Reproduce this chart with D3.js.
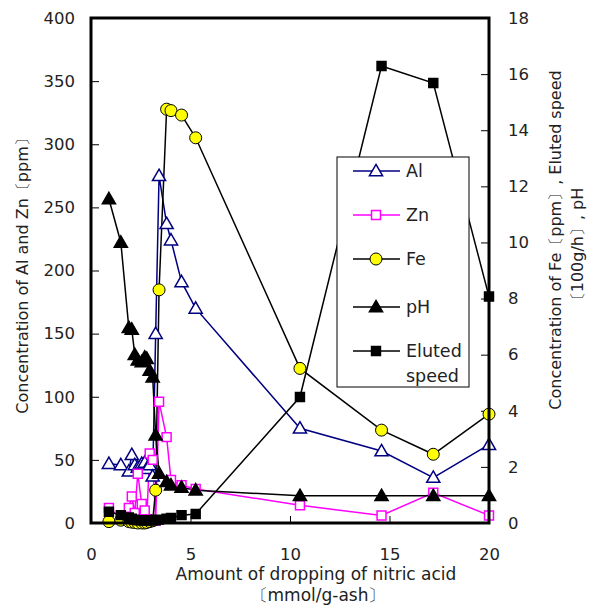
<!DOCTYPE html>
<html lang="en">
	<head>
		<meta charset="utf-8">
		<title>Nitric acid dropping</title>
		<script type="text/javascript" src="https://cdn.jsdelivr.net/npm/d3@7"></script>
		<style type="text/css">
			body { margin: 0; background: #fff; }
			text { font-family: "DejaVu Sans", sans-serif; fill: #222; }
		</style>
	</head>
	<body>
		<script type="text/javascript">

			var width = 592;
			var height = 606;

			// amount of dropping of nitric acid [mmol/g-ash]
			var xs = [0.9, 1.5, 1.9, 2.05, 2.2, 2.35, 2.55, 2.7, 2.8, 2.95, 3.1, 3.25, 3.42, 3.8, 4.02, 4.55, 5.26, 10.5, 14.6, 17.2, 20];
			// left axis [ppm]
			var al = [47, 46, 41, 54, 46, 44, 47, 48, 43, 46, 37, 150, 275, 237, 224, 191, 170, 75, 57, 36, 62];
			var zn = [12, 4, 12, 21, 8, 39, 15, 10, 3, 55, 50, 2, 96, 68, 34, 30, 27, 14, 6, 24, 6];
			// right axis
			var fe = [0.05, 0.1, 0.05, 0.03, 0.02, 0, 0, 0, 0.02, 0.05, 0.08, 1.17, 8.31, 14.75, 14.7, 14.54, 13.73, 5.51, 3.31, 2.45, 3.88];
			var ph = [11.55, 10.0, 6.96, 6.9, 6.0, 5.8, 5.74, 5.9, 5.86, 5.44, 5.2, 3.13, 1.77, 1.47, 1.35, 1.27, 1.17, 0.97, 0.97, 0.97, 0.97];
			var eluted = [0.4, 0.28, 0.2, 0.15, 0.12, 0.1, 0.1, 0.1, 0.1, 0.1, 0.1, 0.1, 0.12, 0.15, 0.18, 0.28, 0.32, 4.49, 16.29, 15.68, 8.07];

			var xTicks = [0, 5, 10, 15, 20];
			var leftTicks = [0, 50, 100, 150, 200, 250, 300, 350, 400];
			var rightTicks = [0, 2, 4, 6, 8, 10, 12, 14, 16, 18];

			var pLeft = 91, pRight = 489, pTop = 18, pBottom = 523;

			var svg = d3.select("body")
						.append("svg")
						.attr("width", width)
						.attr("height", height);

			var xScale = d3.scaleLinear().domain([0, 20]).range([pLeft, pRight]);
			var yLeft = d3.scaleLinear().domain([0, 400]).range([pBottom, pTop]);
			var yRight = d3.scaleLinear().domain([0, 18]).range([pBottom, pTop]);

			// axes with inward ticks
			svg.append("g")
				.attr("transform", "translate(0," + pBottom + ")")
				.call(d3.axisBottom(xScale).tickValues(xTicks).tickSizeInner(-7).tickSizeOuter(0).tickPadding(25))
				.call(function(g){ g.select(".domain").remove(); });
			svg.append("g")
				.attr("transform", "translate(" + pLeft + ",0)")
				.call(d3.axisLeft(yLeft).tickValues(leftTicks).tickSizeInner(-8).tickSizeOuter(0).tickPadding(16))
				.call(function(g){ g.select(".domain").remove(); });
			svg.append("g")
				.attr("transform", "translate(" + pRight + ",0)")
				.call(d3.axisRight(yRight).tickValues(rightTicks).tickSizeInner(-8).tickSizeOuter(0).tickPadding(19))
				.call(function(g){ g.select(".domain").remove(); });

			svg.selectAll(".tick text")
				.attr("font-family", "DejaVu Sans, sans-serif")
				.attr("font-size", 16.5)
				.attr("fill", "#222");
			svg.selectAll(".tick line").attr("stroke", "#000").attr("stroke-width", 1);

			// series definitions
			var triangle = d3.symbol().type(d3.symbolTriangle).size(75);
			var square = d3.symbol().type(d3.symbolSquare).size(80);

			var series = [
				{name: "Al", vals: al, y: yLeft, line: "#000080", shape: "tri", fill: "#fff", stroke: "#000080"},
				{name: "Zn", vals: zn, y: yLeft, line: "#ff00ff", shape: "sq", fill: "#fff", stroke: "#ff00ff"},
				{name: "Fe", vals: fe, y: yRight, line: "#000", shape: "circ", fill: "#ffff00", stroke: "#000"},
				{name: "pH", vals: ph, y: yRight, line: "#000", shape: "tri", fill: "#000", stroke: "#000"},
				{name: "Eluted", vals: eluted, y: yRight, line: "#000", shape: "sq", fill: "#000", stroke: "#000"}
			];

			function drawMarker(g, s, cx, cy) {
				if (s.shape == "circ") {
					g.append("circle").attr("cx", cx).attr("cy", cy).attr("r", 6)
						.attr("fill", s.fill).attr("stroke", s.stroke).attr("stroke-width", 1);
				} else {
					g.append("path").attr("d", s.shape == "tri" ? triangle() : square())
						.attr("transform", "translate(" + cx + "," + (cy + (s.shape == "tri" ? 1 : 0)) + ")")
						.attr("fill", s.fill).attr("stroke", s.stroke).attr("stroke-width", 1.5);
				}
			}

			series.forEach(function(s) {
				var line = d3.line()
					.x(function(d, i){ return xScale(xs[i]); })
					.y(function(d){ return s.y(d); });
				svg.append("path")
					.datum(s.vals)
					.attr("d", line)
					.attr("fill", "none")
					.attr("stroke", s.line)
					.attr("stroke-width", 1.5);
			});
			series.forEach(function(s) {
				var g = svg.append("g");
				for (var i = 0; i < xs.length; i++) {
					drawMarker(g, s, xScale(xs[i]), s.y(s.vals[i]));
				}
			});

			// frame
			svg.append("rect")
				.attr("x", pLeft).attr("y", pTop)
				.attr("width", pRight - pLeft).attr("height", pBottom - pTop)
				.attr("fill", "none").attr("stroke", "#000").attr("stroke-width", 3);

			// legend
			var lg = svg.append("g");
			lg.append("rect").attr("x", 337).attr("y", 157).attr("width", 132).attr("height", 230)
				.attr("fill", "#fff").attr("stroke", "#000").attr("stroke-width", 1);
			var legendY = [171, 215, 259, 307, 351];
			series.forEach(function(s, i) {
				var ly = legendY[i];
				lg.append("line").attr("x1", 353).attr("x2", 400).attr("y1", ly).attr("y2", ly)
					.attr("stroke", s.line).attr("stroke-width", 1.5);
				drawMarker(lg, s, 376, ly);
				lg.append("text").attr("x", 406).attr("y", ly + 6).attr("font-size", 17.5).text(s.name);
			});
			lg.append("text").attr("x", 406).attr("y", 382).attr("font-size", 17.5).text("speed");

			// axis titles
			svg.append("text").attr("x", 316).attr("y", 580).attr("text-anchor", "middle")
				.attr("font-size", 17).text("Amount of dropping of nitric acid");
			svg.append("text").attr("x", 318).attr("y", 601).attr("text-anchor", "middle")
				.attr("font-size", 17).text("〔mmol/g-ash〕");

			svg.append("text")
				.attr("transform", "translate(28,272) rotate(-90)")
				.attr("text-anchor", "middle").attr("font-size", 16)
				.text("Concentration of Al and Zn〔ppm〕");

			svg.append("text")
				.attr("transform", "translate(561,240) rotate(-90)")
				.attr("text-anchor", "middle").attr("font-size", 16)
				.text("Concentration of Fe〔ppm〕,  Eluted speed");
			svg.append("text")
				.attr("transform", "translate(583,248) rotate(-90)")
				.attr("text-anchor", "middle").attr("font-size", 16)
				.text("〔100g/h〕, pH");

		</script>
	</body>
</html>
